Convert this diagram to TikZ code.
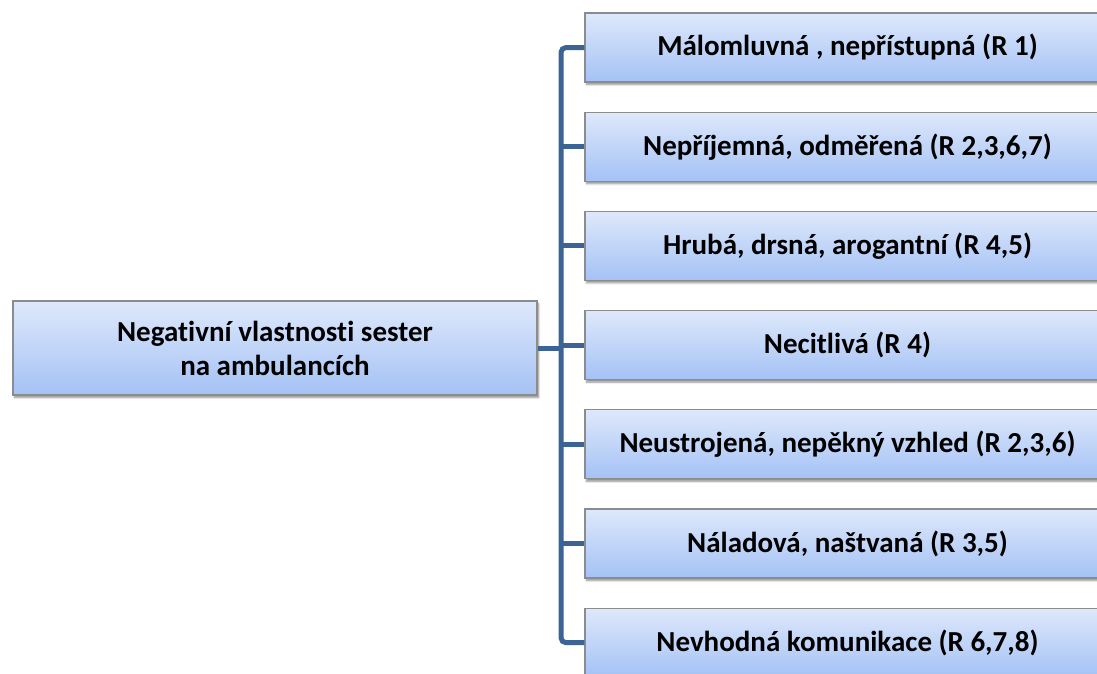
\documentclass[tikz,border=0pt]{standalone}
\usepackage{fontspec}
\setmainfont[Ligatures=NoCommon]{Carlito}
\usetikzlibrary{shadows.blur}
\definecolor{boxtop}{HTML}{DEE8FB}
\definecolor{boxbot}{HTML}{A4C2F5}
\definecolor{boxline}{HTML}{8C8C8C}
\definecolor{connline}{HTML}{3B6396}
\tikzset{
  box/.style={rectangle, draw=boxline, line width=1.1pt, top color=boxtop, bottom color=boxbot,
    minimum width=525pt, minimum height=69pt, inner sep=0pt, align=center,
    font=\bfseries\fontsize{29}{34}\selectfont,
    blur shadow={shadow xshift=1.5pt, shadow yshift=-2.5pt, shadow blur steps=6, shadow opacity=45}},
  rootbox/.style={box, minimum width=524pt, minimum height=94pt},
  conn/.style={draw=connline, line width=5pt, rounded corners=5pt}
}
\begin{document}
\begin{tikzpicture}[x=1pt, y=-1pt]
\useasboundingbox (0,0) rectangle (1097,673);
\node[rootbox] (root) at (275,348) {Negativní vlastnosti sester\\na ambulancích};
\node[box] (b1) at (847.5,47.5) {Málomluvná , nepřístupná (R 1)};
\node[box] (b2) at (847.5,146.7) {Nepříjemná, odměřená (R 2,3,6,7)};
\node[box] (b3) at (847.5,245.9) {Hrubá, drsná, arogantní (R 4,5)};
\node[box] (b4) at (847.5,345.1) {Necitlivá (R 4)};
\node[box] (b5) at (847.5,444.3) {Neustrojená, nepěkný vzhled (R 2,3,6)};
\node[box] (b6) at (847.5,543.5) {Náladová, naštvaná (R 3,5)};
\node[box] (b7) at (847.5,642.7) {Nevhodná komunikace (R 6,7,8)};
\coordinate (trunk) at (561,348);
\draw[conn] (b1.west) -| (trunk) |- (b7.west);
\draw[conn] (root.east) -- (trunk);
\foreach \i in {2,...,6} {
  \draw[conn] (b\i.west) -- (b\i.west -| trunk);
}
\end{tikzpicture}
\end{document}
